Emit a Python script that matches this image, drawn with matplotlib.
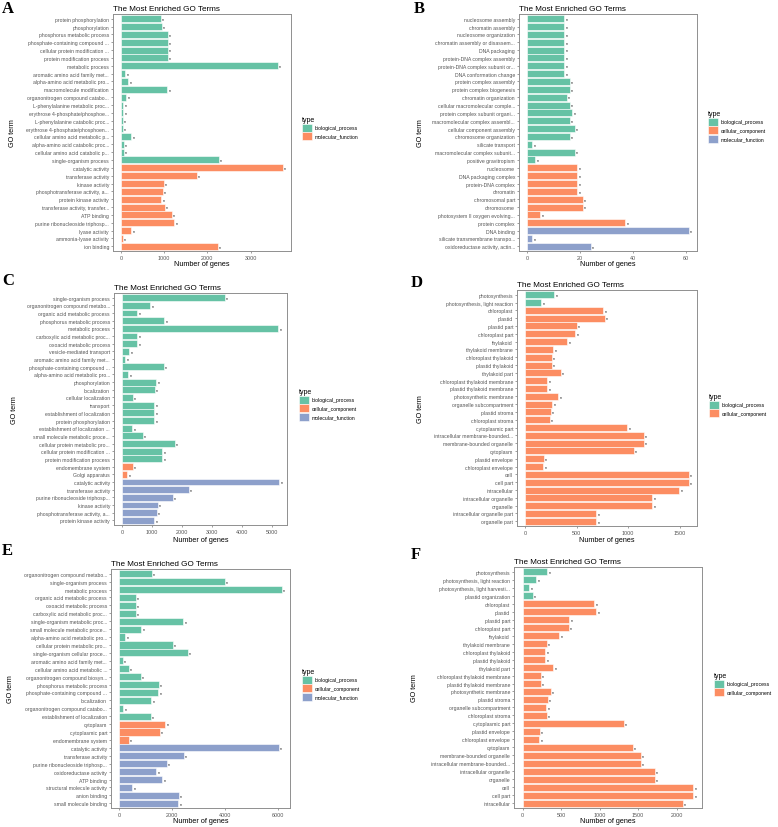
import numpy as np
import matplotlib
matplotlib.use("Agg")
import matplotlib.pyplot as plt
from matplotlib.patches import Patch

plt.rcParams['font.family'] = ['Liberation Sans', 'DejaVu Sans']

W, H = 778, 828
# ggplot2 / Set2 palette, assigned in order of the type levels present in a panel
SET2 = ['#66C2A5', '#FC8D62', '#8DA0CB']
BP, CC, MF = 'biological_process', 'cellular_component', 'molecular_function'

# ---------------- Panel A ----------------
labels_A = ["protein phosphorylation", "phosphorylation", "phosphorus metabolic process",
            "phosphate-containing compound ...", "cellular protein modification ...",
            "protein modification process", "metabolic process",
            "aromatic amino acid family met...", "alpha-amino acid metabolic pro...",
            "macromolecule modification", "organonitrogen compound catabo...",
            "L-phenylalanine metabolic proc...", "erythrose 4-phosphate/phosphoe...",
            "L-phenylalanine catabolic proc...", "erythrose 4-phosphate/phosphoen...",
            "cellular amino acid metabolic p...", "alpha-amino acid catabolic proc...",
            "cellular amino acid catabolic p...", "single-organism process",
            "catalytic activity", "transferase activity", "kinase activity",
            "phosphotransferase activity, a...", "protein kinase activity",
            "transferase activity, transfer...", "ATP binding",
            "purine ribonucleoside triphosp...", "lyase activity",
            "ammonia-lyase activity", "ion binding"]
values_A = [915, 945, 1085, 1085, 1085, 1085, 3628, 100, 170, 1070, 125, 55, 55, 40, 45,
            240, 60, 60, 2263, 3750, 1750, 985, 970, 930, 1010, 1170, 1230, 240, 45, 2240]
types_A = [BP] * 19 + [MF] * 11
ticks_A = [0, 1000, 2000, 3000]

# ---------------- Panel B ----------------
labels_B = ["nucleosome assembly", "chromatin assembly", "nucleosome organization",
            "chromatin assembly or disassem...", "DNA packaging",
            "protein-DNA complex assembly", "protein-DNA complex subunit or...",
            "DNA conformation change", "protein complex assembly",
            "protein complex biogenesis", "chromatin organization",
            "cellular macromolecular comple...", "protein complex subunit organi...",
            "macromolecular complex assembl...", "cellular component assembly",
            "chromosome organization", "silicate transport",
            "macromolecular complex subunit...", "positive gravitropism",
            "nucleosome", "DNA packaging complex", "protein-DNA complex", "chromatin",
            "chromosomal part", "chromosome", "photosystem II oxygen evolving...",
            "protein complex", "DNA binding", "silicate transmembrane transpo...",
            "oxidoreductase activity, actin..."]
values_B = [14, 14, 14, 14, 14, 14, 14, 14, 16, 16, 15, 16, 17, 16, 18, 16, 2, 18, 3,
            19, 19, 19, 19, 21, 21, 5, 37, 61, 2, 24]
types_B = [BP] * 19 + [CC] * 8 + [MF] * 3
ticks_B = [0, 20, 40, 60]

# ---------------- Panel C ----------------
labels_C = ["single-organism process", "organonitrogen compound metabo...",
            "organic acid metabolic process", "phosphorus metabolic process",
            "metabolic process", "carboxylic acid metabolic proc...",
            "oxoacid metabolic process", "vesicle-mediated transport",
            "aromatic amino acid family met...", "phosphate-containing compound ...",
            "alpha-amino acid metabolic pro...", "phosphorylation", "localization",
            "cellular localization", "transport", "establishment of localization",
            "protein phosphorylation", "establishment of localization ...",
            "small molecule metabolic proce...", "cellular protein metabolic pro...",
            "cellular protein modification ...", "protein modification process",
            "endomembrane system", "Golgi apparatus", "catalytic activity",
            "transferase activity", "purine ribonucleoside triphosp...",
            "kinase activity", "phosphotransferase activity, a...",
            "protein kinase activity"]
values_C = [3430, 940, 510, 1415, 5220, 510, 510, 245, 120, 1395, 210, 1150, 1105, 355,
            1085, 1085, 1085, 345, 690, 1770, 1350, 1350, 365, 175, 5245, 2235, 1705,
            1195, 1160, 1085]
types_C = [BP] * 22 + [CC] * 2 + [MF] * 6
ticks_C = [0, 1000, 2000, 3000, 4000, 5000]

# ---------------- Panel D ----------------
labels_D = ["photosynthesis", "photosynthesis, light reaction", "chloroplast", "plastid",
            "plastid part", "chloroplast part", "thylakoid", "thylakoid membrane",
            "chloroplast thylakoid", "plastid thylakoid", "thylakoid part",
            "chloroplast thylakoid membrane", "plastid thylakoid membrane",
            "photosynthetic membrane", "organelle subcompartment", "plastid stroma",
            "chloroplast stroma", "cytoplasmic part",
            "intracellular membrane-bounded...", "membrane-bounded organelle",
            "cytoplasm", "plastid envelope", "chloroplast envelope", "cell", "cell part",
            "intracellular", "intracellular organelle", "organelle",
            "intracellular organelle part", "organelle part"]
values_D = [283, 155, 757, 773, 499, 486, 409, 274, 258, 258, 345, 216, 216, 322, 264,
            251, 241, 991, 1152, 1152, 1056, 180, 174, 1590, 1590, 1497, 1233, 1233,
            692, 692]
types_D = [BP] * 2 + [CC] * 28
ticks_D = [0, 500, 1000, 1500]

# ---------------- Panel E ----------------
labels_E = ["organonitrogen compound metabo...", "single-organism process",
            "metabolic process", "organic acid metabolic process",
            "oxoacid metabolic process", "carboxylic acid metabolic proc...",
            "single-organism metabolic proc...", "small molecule metabolic proce...",
            "alpha-amino acid metabolic pro...", "cellular protein metabolic pro...",
            "single-organism cellular proce...", "aromatic amino acid family met...",
            "cellular amino acid metabolic ...", "organonitrogen compound biosyn...",
            "phosphorus metabolic process", "phosphate-containing compound ...",
            "localization", "organonitrogen compound catabo...",
            "establishment of localization", "cytoplasm", "cytoplasmic part",
            "endomembrane system", "catalytic activity", "transferase activity",
            "purine ribonucleoside triphosp...", "oxidoreductase activity",
            "ATP binding", "structural molecule activity", "anion binding",
            "small molecule binding"]
values_E = [1237, 3990, 6160, 620, 620, 620, 2425, 845, 240, 2030, 2600, 140, 365, 820,
            1500, 1490, 1225, 150, 1200, 1755, 1530, 365, 6050, 2450, 1805, 1400, 1630,
            490, 2260, 2235]
types_E = [BP] * 19 + [CC] * 3 + [MF] * 8
ticks_E = [0, 2000, 4000, 6000]

# ---------------- Panel F ----------------
labels_F = ["photosynthesis", "photosynthesis, light reaction",
            "photosynthesis, light harvesti...", "plastid organization", "chloroplast",
            "plastid", "plastid part", "chloroplast part", "thylakoid",
            "thylakoid membrane", "chloroplast thylakoid", "plastid thylakoid",
            "thylakoid part", "chloroplast thylakoid membrane",
            "plastid thylakoid membrane", "photosynthetic membrane", "plastid stroma",
            "organelle subcompartment", "chloroplast stroma", "cytoplasmic part",
            "plastid envelope", "chloroplast envelope", "cytoplasm",
            "membrane-bounded organelle", "intracellular membrane-bounded...",
            "intracellular organelle", "organelle", "cell", "cell part", "intracellular"]
values_F = [320, 177, 86, 134, 933, 958, 604, 600, 479, 315, 298, 298, 397, 237, 237,
            367, 324, 307, 315, 1317, 225, 216, 1429, 1537, 1537, 1714, 1714, 2219, 2219,
            2077]
types_F = [BP] * 4 + [CC] * 26
ticks_F = [0, 500, 1000, 1500, 2000]

panel_letters = ["A", "B", "C", "D", "E", "F"]

# layout in pixels: axes (L, R, T, B), letter (x, y), ylabel x, xlabel y, legend (x, y)
layout = [
    dict(ax=(113, 291, 15, 252), letter=(2, 9), ylab=12, xlab=265, leg=(302, 117)),
    dict(ax=(519, 697, 15, 252), letter=(414, 9), ylab=421, xlab=265, leg=(708, 111)),
    dict(ax=(114, 287, 294, 526), letter=(2, 281), ylab=15, xlab=540, leg=(299, 389)),
    dict(ax=(517, 697, 291, 527), letter=(411, 283), ylab=420, xlab=541, leg=(709, 394)),
    dict(ax=(111, 290, 570, 809), letter=(2, 551), ylab=10, xlab=822, leg=(302, 669)),
    dict(ax=(514, 702, 568, 809), letter=(411, 555), ylab=415, xlab=822, leg=(714, 673)),
]

datasets = [
    (labels_A, values_A, types_A, ticks_A),
    (labels_B, values_B, types_B, ticks_B),
    (labels_C, values_C, types_C, ticks_C),
    (labels_D, values_D, types_D, ticks_D),
    (labels_E, values_E, types_E, ticks_E),
    (labels_F, values_F, types_F, ticks_F),
]

fig = plt.figure(figsize=(W / 100, H / 100), dpi=100)
TXT = '#555555'
SP = '#8f8f8f'

for letter, lay, (labels, values, types, ticks) in zip(panel_letters, layout, datasets):
    L, R, T, B = lay['ax']
    ax = fig.add_axes([L / W, 1 - B / H, (R - L) / W, (B - T) / H])
    n = len(labels)
    y = np.arange(n)
    present = [t for t in (BP, CC, MF) if t in types]
    pal = {t: SET2[i] for i, t in enumerate(present)}
    colors = [pal[t] for t in types]
    ax.barh(y, values, height=0.9, color=colors, edgecolor='white', linewidth=0.4)
    vmax = max(values)
    ax.set_xlim(-0.05 * vmax, 1.05 * vmax)
    ax.set_ylim(n - 1 + 0.6, -0.6)
    for yi, v in zip(y, values):
        ax.annotate('*', (v, yi), xytext=(1.0, -0.6), textcoords='offset points',
                    ha='left', va='center', fontsize=3.6, color='black')
    ax.set_yticks(y)
    ax.set_yticklabels(labels, fontsize=3.7, color=TXT)
    ax.set_xticks(ticks)
    ax.set_xticklabels([str(t) for t in ticks], fontsize=3.9, color=TXT)
    ax.tick_params(axis='both', length=1.6, width=0.4, color=TXT, pad=1.2)
    for s in ax.spines.values():
        s.set_color(SP)
        s.set_linewidth(0.7)
    ax.set_title('The Most Enriched GO Terms', loc='left', fontsize=5.9, pad=3,
                 color='black')
    # axis titles
    fig.text(((L + R) / 2) / W, 1 - lay['xlab'] / H, 'Number of genes', ha='center',
             va='center', fontsize=5.2, color='black')
    fig.text(lay['ylab'] / W, 1 - ((T + B) / 2) / H, 'GO term', ha='center',
             va='center', rotation=90, fontsize=5.2, color='black')
    # panel letter
    lx, ly = lay['letter']
    fig.text(lx / W, 1 - ly / H, letter, ha='left', va='center', fontsize=12,
             fontweight='bold', family='Liberation Serif')
    # legend
    handles = [Patch(facecolor=pal[t], edgecolor='white', linewidth=0.4)
               for t in present]
    gx, gy = lay['leg']
    leg = fig.legend(handles, present, title='type', loc='upper left',
                     bbox_to_anchor=(gx / W, 1 - gy / H), frameon=False,
                     fontsize=3.7, title_fontsize=5.0, handlelength=2.0,
                     handleheight=2.0, labelspacing=0.12, handletextpad=0.5,
                     borderpad=0, borderaxespad=0)
    leg._legend_box.align = 'left'

fig.savefig('out.png', dpi=100)
